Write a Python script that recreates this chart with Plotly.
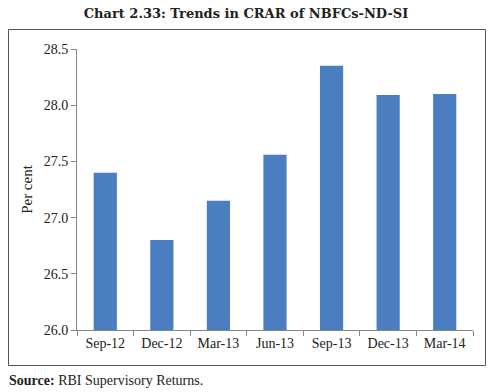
import plotly.graph_objects as go

categories = ["Sep-12", "Dec-12", "Mar-13", "Jun-13", "Sep-13", "Dec-13", "Mar-14"]
crar = [27.40, 26.80, 27.15, 27.56, 28.35, 28.09, 28.10]
y_ticks = [26.0, 26.5, 27.0, 27.5, 28.0, 28.5]
y_tick_labels = ["26.0", "26.5", "27.0", "27.5", "28.0", "28.5"]

W, H = 492, 392
L, R, T, B = 77, 19, 49, 62
pw, ph = W - L - R, H - T - B

def px_to_paper_x(x):
    return (x - L) / pw

def px_to_paper_y(y):
    return 1 - (y - T) / ph

font_family = "Liberation Serif, DejaVu Serif, serif"
title_family = "DejaVu Serif, Liberation Serif, serif"
axis_col = "#868686"
txt_col = "#222"

fig = go.Figure(go.Bar(
    x=categories, y=crar,
    marker=dict(color="#4a7ec0", line=dict(width=0)),
    width=0.41,
))

fig.update_layout(
    width=W, height=H,
    margin=dict(l=L, r=R, t=T, b=B, autoexpand=False),
    paper_bgcolor="white", plot_bgcolor="white",
    showlegend=False,
    font=dict(family=font_family, size=14, color=txt_col),
    title=dict(
        text="<b>Chart 2.33: Trends in CRAR of NBFCs-ND-SI</b>",
        x=0.5, xref="container", xanchor="center",
        y=1 - 13 / H, yanchor="middle", yref="container",
        font=dict(size=13, color=txt_col, family=title_family),
    ),
    xaxis=dict(
        type="category",
        showline=True, linecolor=axis_col, linewidth=1,
        ticks="outside", tickson="boundaries", ticklen=5, tickcolor=axis_col,
        showgrid=False, zeroline=False,
        tickfont=dict(size=14, color=txt_col),
    ),
    yaxis=dict(
        range=[26.0, 28.5],
        tickvals=y_ticks, ticktext=y_tick_labels,
        showline=True, linecolor=axis_col, linewidth=1,
        ticks="outside", ticklen=5, tickcolor=axis_col,
        showgrid=False, zeroline=False,
        tickfont=dict(size=14, color=txt_col),
        title=dict(text="Per cent", font=dict(size=15, color=txt_col), standoff=7),
    ),
    shapes=[dict(
        type="rect", xref="paper", yref="paper",
        x0=px_to_paper_x(8.5), x1=px_to_paper_x(485.5),
        y0=px_to_paper_y(365.5), y1=px_to_paper_y(29.5),
        line=dict(color="#555", width=1), fillcolor="rgba(0,0,0,0)", layer="below",
    )],
    annotations=[dict(
        text="<b>Source:</b> RBI Supervisory Returns.",
        xref="paper", yref="paper",
        x=px_to_paper_x(7), y=px_to_paper_y(380),
        xanchor="left", yanchor="middle", showarrow=False,
        font=dict(size=14, color=txt_col, family=font_family),
    )],
)

fig.write_html(
    "out.html",
    config={"displayModeBar": False},
    post_script="document.body.style.margin='0';document.body.style.overflow='hidden';",
)
